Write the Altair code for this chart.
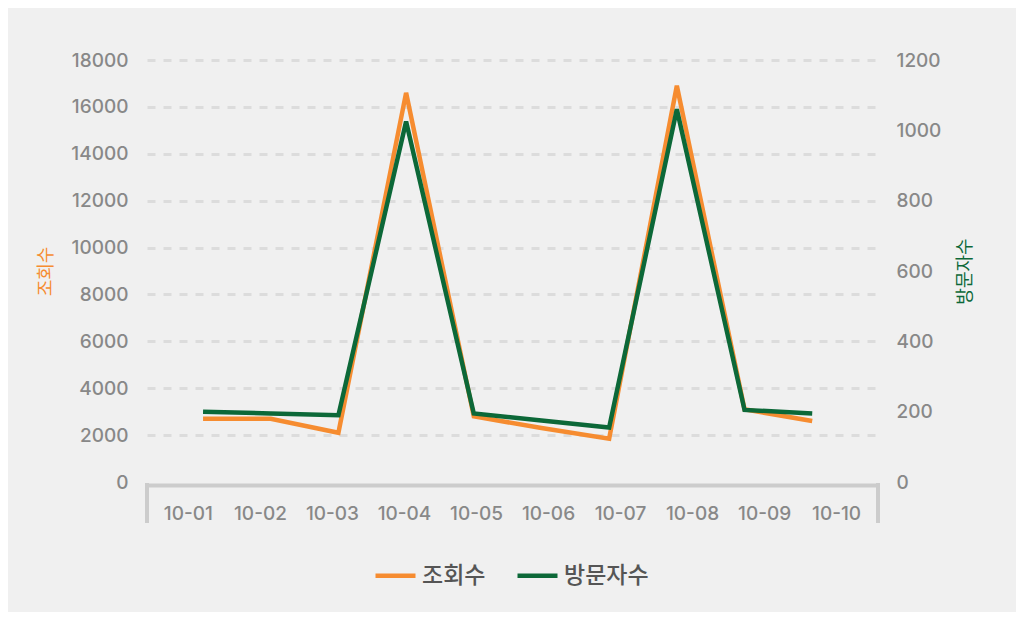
import altair as alt
import pandas as pd

dates = ["10-01", "10-02", "10-03", "10-04", "10-05", "10-06", "10-07", "10-08", "10-09", "10-10"]
views = [2700, 2700, 2100, 16600, 2800, 2300, 1850, 16900, 3100, 2600]
visitors = [200, 195, 190, 1025, 195, 175, 155, 1060, 205, 195]
series = ["조회수", "방문자수"]
colors = ["#f68c30", "#0c6838"]
left_ticks = [0, 2000, 4000, 6000, 8000, 10000, 12000, 14000, 16000, 18000]
right_ticks = [0, 200, 400, 600, 800, 1000, 1200]

df = pd.DataFrame({
    "date": dates * 2,
    "series": [series[0]] * len(dates) + [series[1]] * len(dates),
    "value": views + visitors,
})

W, H = 731, 422
NUMFONT = "Inter, 'Noto Sans CJK KR', sans-serif"
KFONT = "'Noto Sans CJK KR', sans-serif"
LABEL_COLOR = "#888888"

# category axis (band scale) carrying the labels
x_band = alt.X(
    "date:N", sort=dates,
    scale=alt.Scale(type="band", paddingInner=0, paddingOuter=0.075),
    axis=alt.Axis(title=None, labelAngle=0, domainColor="#cccccc", domainWidth=4,
                  ticks=False, grid=False, labelFont=NUMFONT, labelFontSize=19,
                  labelFontWeight=500,
                  labelColor=LABEL_COLOR, labelPadding=19, offset=3),
)
axis_layer = alt.Chart(pd.DataFrame({"date": dates})).mark_point(opacity=0).encode(x=x_band)

x_point = alt.X("date:N", sort=dates,
                scale=alt.Scale(type="point", padding=0.9, align=0.46), axis=None)

color = alt.Color(
    "series:N", sort=series,
    scale=alt.Scale(domain=series, range=colors),
    legend=alt.Legend(
        title=None, orient="none", direction="horizontal", legendX=226, legendY=493,
        symbolType="stroke", symbolSize=1600, symbolStrokeWidth=4.5,
        labelFont=KFONT, labelFontSize=23, labelFontWeight=500, labelColor="#555555",
        labelOffset=4, columnPadding=22,
    ),
)

views_line = alt.Chart(df).transform_filter(alt.datum.series == series[0]).mark_line(
    strokeWidth=4.5
).encode(
    x=x_point,
    y=alt.Y("value:Q", scale=alt.Scale(domain=[0, 18000], nice=False),
            axis=alt.Axis(title=series[0], orient="left", values=left_ticks, format="d",
                          grid=True, gridDash=[8, 8], gridColor="#dcdcdc", gridWidth=3,
                          gridOpacity={"condition": {"test": "datum.value === 0", "value": 0}, "value": 1},
                          domain=False, ticks=False, labelPadding=19,
                          labelFont=NUMFONT, labelFontSize=19, labelFontWeight=500,
                          labelColor=LABEL_COLOR,
                          titleColor=colors[0], titleFont=KFONT, titleFontSize=18,
                          titleFontWeight="normal", titleAngle=270, titleX=-101,
                          titleY=H / 2, titleAlign="center", titleBaseline="middle")),
    color=color,
)

visitors_line = alt.Chart(df).transform_filter(alt.datum.series == series[1]).mark_line(
    strokeWidth=4.5
).encode(
    x=x_point,
    y=alt.Y("value:Q", scale=alt.Scale(domain=[0, 1200], nice=False),
            axis=alt.Axis(title=series[1], orient="right", values=right_ticks, format="d",
                          grid=False, domain=False, ticks=False, labelPadding=18,
                          labelFont=NUMFONT, labelFontSize=19, labelFontWeight=500,
                          labelColor=LABEL_COLOR,
                          titleColor=colors[1], titleFont=KFONT, titleFontSize=18,
                          titleFontWeight="normal", titleAngle=270, titleX=87,
                          titleY=H / 2, titleAlign="center", titleBaseline="middle")),
    color=color,
)

edge = pd.DataFrame({"edge": [0]})
left_bracket = alt.Chart(edge).mark_rule(color="#cccccc", strokeWidth=4).encode(
    x=alt.value(0), y=alt.value(H + 1), y2=alt.value(H + 41))
right_bracket = alt.Chart(edge).mark_rule(color="#cccccc", strokeWidth=4).encode(
    x=alt.value(W), y=alt.value(H + 1), y2=alt.value(H + 41))

chart = alt.layer(
    axis_layer, views_line, visitors_line, left_bracket, right_bracket
).resolve_scale(
    x="independent", y="independent"
).properties(
    width=W, height=H,
    padding={"left": 139, "top": 52, "right": 138, "bottom": 130},
    autosize=alt.AutoSizeParams(type="none"),
    background="#f0f0f0",
).configure_view(stroke=None)

chart.save("out.html", embed_options={"renderer": "svg", "actions": False})
